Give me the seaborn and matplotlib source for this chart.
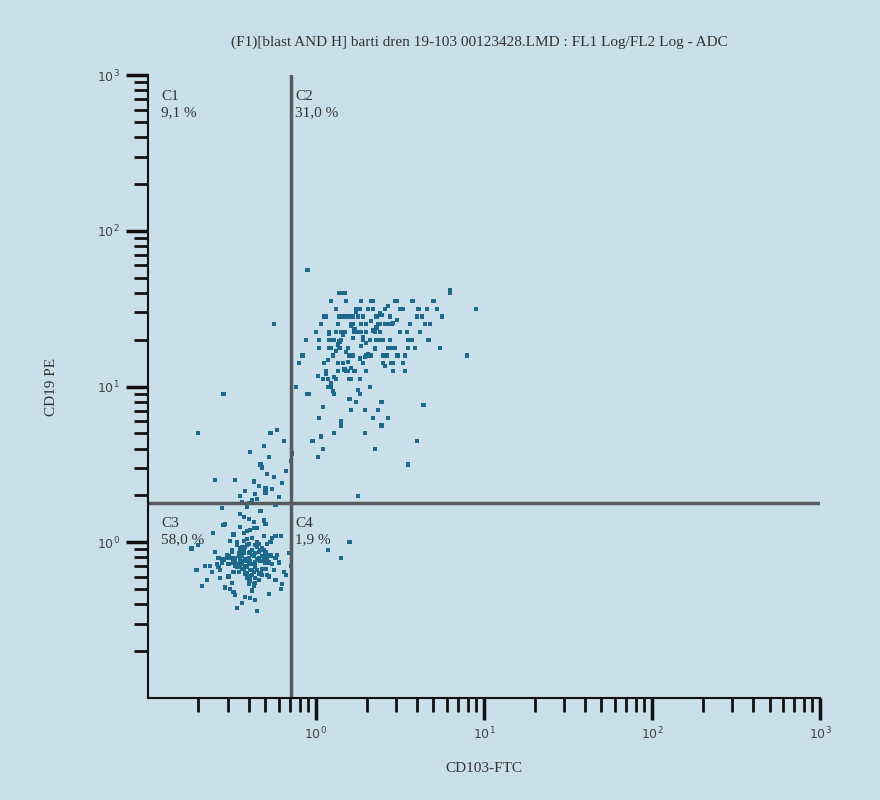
import numpy as np
import pandas as pd
import matplotlib
matplotlib.use("Agg")
import matplotlib.pyplot as plt
import seaborn as sns
from matplotlib.ticker import FixedLocator, FixedFormatter, NullFormatter

# log10 coordinates
low_x = [-0.42,-0.38,-0.45,-0.50,-0.35,-0.40,-0.47,-0.33,-0.55,-0.44,-0.30,-0.39,-0.52,-0.41,-0.36,-0.48,-0.28,-0.43,-0.58,-0.37,-0.46,-0.32,-0.49,-0.40,-0.62,-0.34,-0.51,-0.26,-0.44,-0.39,-0.57,-0.31,-0.47,-0.42,-0.36,-0.53,-0.22,-0.45,-0.38,-0.60,-0.29,-0.48,-0.41,-0.35,-0.66,-0.43,-0.24,-0.50,-0.37,-0.46,-0.33,-0.54,-0.40,-0.27,-0.44,-0.70,-0.39,-0.49,-0.31,-0.42,-0.56,-0.36,-0.20,-0.47,-0.41,-0.34,-0.52,-0.45,-0.38,-0.63,-0.30,-0.43,-0.25,-0.48,-0.40,-0.35,-0.59,-0.44,-0.32,-0.51,-0.18,-0.46,-0.39,-0.28,-0.42,-0.55,-0.37,-0.49,-0.33,-0.68,-0.41,-0.23,-0.45,-0.36,-0.52,-0.40,-0.30,-0.47,-0.43,-0.61,-0.34,-0.38,-0.16,-0.50,-0.44,-0.26,-0.57,-0.42,-0.35,-0.48,-0.31,-0.74,-0.39,-0.45,-0.21,-0.53,-0.37,-0.43,-0.29,-0.65,-0.41,-0.47,-0.33,-0.19,-0.50,-0.36,-0.44,-0.58,-0.27,-0.40,-0.46,-0.32,-0.54,-0.38,-0.15,-0.49,-0.42,-0.24,-0.71,-0.35,-0.45,-0.30,-0.56,-0.41,-0.37,-0.22,-0.48,-0.64,-0.43,-0.34]
low_y = [-0.12,-0.08,-0.15,-0.05,-0.18,-0.10,-0.02,-0.20,-0.11,-0.14,-0.06,-0.25,-0.09,0.02,-0.16,-0.13,-0.22,-0.04,-0.10,-0.28,-0.07,-0.17,0.05,-0.12,-0.19,-0.01,-0.30,-0.14,-0.08,0.08,-0.23,-0.11,-0.16,-0.03,-0.26,-0.09,-0.13,0.10,-0.18,-0.06,-0.21,-0.34,-0.12,0.00,-0.15,-0.07,-0.24,-0.10,0.13,-0.19,-0.05,-0.29,-0.14,-0.09,-0.17,-0.02,-0.36,-0.11,0.04,-0.20,-0.13,-0.07,-0.27,-0.16,0.07,-0.10,-0.22,-0.04,-0.31,-0.15,-0.08,0.16,-0.18,-0.12,-0.25,-0.03,-0.14,-0.39,-0.09,0.01,-0.21,-0.16,-0.06,-0.33,-0.11,0.11,-0.19,-0.13,-0.05,-0.28,-0.15,-0.08,0.18,-0.23,-0.10,-0.01,-0.17,-0.42,-0.12,0.06,-0.20,-0.14,-0.07,-0.26,-0.09,0.03,-0.18,-0.35,-0.11,-0.15,0.14,-0.04,-0.22,-0.13,-0.30,-0.08,0.09,-0.17,-0.10,-0.24,-0.02,-0.14,0.20,-0.19,-0.06,-0.37,-0.12,-0.16,0.00,-0.27,-0.09,-0.21,0.12,-0.05,-0.15,-0.32,-0.11,0.04,-0.18,-0.44,-0.07,-0.13,0.22,-0.20]
# extra points in the dense core of the lower population
core_x = [-0.40,-0.36,-0.44,-0.31,-0.48,-0.38,-0.42,-0.34,-0.46,-0.29,-0.41,-0.37,-0.50,-0.33,-0.43,-0.39,-0.27,-0.45,-0.35,-0.52,-0.32,-0.41,-0.24,-0.47,-0.38,-0.30,-0.44,-0.36,-0.49,-0.21,-0.42,-0.34,-0.46,-0.28,-0.40,-0.53,-0.37,-0.43,-0.31,-0.39]
core_y = [-0.07,-0.13,-0.03,-0.17,-0.10,0.03,-0.20,-0.06,-0.15,-0.01,-0.23,-0.09,-0.05,-0.12,0.06,-0.18,-0.08,-0.11,0.09,-0.14,-0.04,-0.16,-0.10,0.00,-0.21,0.12,-0.07,-0.02,-0.19,0.04,-0.15,-0.24,-0.08,-0.13,0.15,-0.10,-0.27,0.01,-0.05,-0.12]
bridge_x = [-0.35,-0.30,-0.40,-0.25,-0.45,-0.33,-0.20,-0.38,-0.28,-0.42,-0.18,-0.31,-0.36,-0.24,-0.48,-0.27,-0.15,-0.34,-0.22,-0.39,-0.29,-0.44,-0.19,-0.32,-0.26,-0.37,-0.14,-0.41,-0.23,-0.30]
bridge_y = [0.28,0.35,0.25,0.42,0.30,0.50,0.38,0.27,0.55,0.33,0.46,0.62,0.31,0.24,0.40,0.70,0.52,0.36,0.29,0.58,0.44,0.26,0.65,0.48,0.34,0.39,0.57,0.23,0.72,0.32]
up_x = [0.10,0.20,0.05,0.30,0.15,0.25,-0.05,0.35,0.12,0.22,0.40,0.02,0.18,0.28,0.45,0.08,0.32,0.14,0.50,0.24,-0.08,0.38,0.16,0.55,0.06,0.27,0.42,0.11,0.34,0.19,0.60,0.00,0.29,0.47,0.13,0.36,0.21,0.65,0.04,0.31,0.52,0.17,0.26,0.44,0.09,0.70,0.23,0.37,-0.10,0.57,0.15,0.33,0.48,0.07,0.25,0.62,0.19,0.39,0.03,0.53,0.28,0.12,0.46,0.75,0.21,0.35,-0.02,0.58,0.16,0.30,0.43,0.09,0.67,0.26,0.40,0.14,0.50,0.01,0.32,0.22,0.56,0.11,0.38,0.72,0.18,0.45,0.27,-0.06,0.63,0.34,0.08,0.49,0.20,0.41,0.13,0.59,0.29,0.05,0.36,0.54,0.17,0.24,0.44,0.10,0.68,0.31,-0.12,0.47,0.23,0.39,0.06,0.52,0.15,0.33,0.80,0.26,0.42,0.02,0.61,0.19,0.37,0.12,0.48,0.28,0.57,0.08,0.35,0.21,0.46,0.14,0.66,0.30,-0.04,0.40,0.18,0.53,0.25,0.09,0.43,0.32,0.74,0.16,0.50,0.04,0.38,0.22,0.60,0.27,0.11,0.45,0.34,0.07,0.55,0.20,0.41,0.13,0.30,0.64,0.24,0.02,0.48,0.36,0.17,0.58,0.10,0.28]
up_y = [1.30,1.20,1.45,1.10,1.35,1.50,0.95,1.25,1.05,1.40,1.30,0.80,1.55,1.15,1.40,1.25,1.00,1.45,1.50,0.90,1.20,1.35,1.60,1.30,1.10,1.40,1.20,0.70,1.50,1.25,1.45,1.35,0.85,1.55,1.15,1.30,1.05,1.40,0.60,1.20,1.50,1.35,0.95,1.45,1.25,1.55,1.10,1.40,1.15,1.30,0.75,1.20,1.55,1.05,1.45,1.35,1.25,0.90,1.40,1.20,1.30,1.50,1.10,1.45,0.85,1.35,0.65,1.55,1.15,1.40,1.25,1.00,1.30,1.50,1.15,1.60,1.35,0.55,1.20,1.45,1.40,0.95,1.30,1.50,1.10,1.25,1.55,1.30,1.45,0.80,1.35,1.20,1.05,1.50,1.40,1.25,0.70,1.15,1.45,1.35,1.60,0.90,1.30,1.20,1.40,1.50,1.00,1.25,1.35,0.75,1.45,1.15,1.30,1.55,1.60,1.05,1.40,1.25,1.50,1.10,0.85,1.35,1.20,1.45,1.55,1.30,0.60,1.40,1.15,1.25,1.50,1.35,0.95,1.20,1.45,1.10,1.35,1.55,0.80,1.30,1.25,1.45,1.50,1.05,1.40,1.20,0.65,1.35,1.30,1.15,1.55,1.00,1.25,1.45,1.40,1.10,1.20,0.88,1.50,1.30]
up2_x = [0.13,0.23,0.07,0.33,0.18,0.28,0.01,0.38,0.10,0.21,0.43,0.04,0.16,0.26,0.48,0.09,0.30,0.20,0.36,0.12,0.24,0.41,0.06,0.15,0.34,0.27,0.19,0.46,0.03,0.22,0.31,0.11,0.39,0.17,0.25,0.08,0.29,0.14,0.35,0.21]
up2_y = [1.27,1.37,1.17,1.42,1.22,1.32,1.07,1.47,0.97,1.12,1.52,0.87,1.33,1.18,1.43,1.02,1.28,0.92,1.38,1.23,1.48,1.13,1.08,0.78,1.36,1.26,1.16,1.41,0.68,1.31,1.21,1.06,1.46,1.11,0.98,1.34,1.19,1.29,1.24,1.39]
out_x = [-0.55,-0.25,-0.60,0.95,0.90,0.55,0.80,0.25,0.07,0.15,0.20,-0.70,-0.05]
out_y = [0.95,1.40,0.40,1.50,1.20,0.50,1.62,0.30,-0.05,-0.10,0.00,0.70,1.75]

quad_x = 0.71
quad_y = 1.78
quad_labels = [("C1", "9,1 %"), ("C2", "31,0 %"), ("C3", "58,0 %"), ("C4", "1,9 %")]
x_ticklabels = ["$10^0$", "$10^1$", "$10^2$", "$10^3$"]
y_ticklabels = ["$10^0$", "$10^1$", "$10^2$", "$10^3$"]
title = "(F1)[blast AND H] barti dren 19-103 00123428.LMD : FL1 Log/FL2 Log - ADC"

lx = []
ly = []
for xs, ys in [(low_x, low_y), (core_x, core_y), (bridge_x, bridge_y), (up_x, up_y),
               (up2_x, up2_y), (out_x, out_y)]:
    n = min(len(xs), len(ys))
    lx += xs[:n]
    ly += ys[:n]
df = pd.DataFrame({"x": 10 ** np.array(lx), "y": 10 ** np.array(ly)})

bg = "#c9e0ea"
sns.set_style("white")
plt.rcParams["font.family"] = ["Liberation Serif", "DejaVu Serif"]
fig = plt.figure(figsize=(8.8, 8.0), dpi=100, facecolor=bg)
ax = fig.add_axes([0.168, 0.1275, 0.764, 0.7785])
ax.set_facecolor(bg)
ax.set_xscale("log")
ax.set_yscale("log")
sns.scatterplot(data=df, x="x", y="y", ax=ax, marker="s", s=9, color="#1d6a8c",
                edgecolor="none", linewidth=0)
ax.set_xlim(0.1, 1000)
ax.set_ylim(0.1, 1000)

for s in ["top", "right"]:
    ax.spines[s].set_visible(False)
for s in ["left", "bottom"]:
    ax.spines[s].set_color("#111111")
    ax.spines[s].set_linewidth(1.5)

ax.xaxis.set_major_locator(FixedLocator([1, 10, 100, 1000]))
ax.xaxis.set_major_formatter(FixedFormatter(x_ticklabels))
ax.yaxis.set_major_locator(FixedLocator([1, 10, 100, 1000]))
ax.yaxis.set_major_formatter(FixedFormatter(y_ticklabels))
minors = [m * 10.0 ** e for e in range(-1, 3) for m in range(2, 10)]
ax.xaxis.set_minor_locator(FixedLocator(minors))
ax.yaxis.set_minor_locator(FixedLocator(minors))
ax.xaxis.set_minor_formatter(NullFormatter())
ax.yaxis.set_minor_formatter(NullFormatter())
ax.tick_params(axis="both", which="both", bottom=True, left=True, top=False, right=False)
ax.tick_params(axis="both", which="major", direction="out", length=16, width=2.5,
               color="#111111", labelsize=9, labelcolor="#444444", pad=4)
ax.tick_params(axis="both", which="minor", direction="out", length=10, width=2,
               color="#111111")

ax.axvline(quad_x, color="#555b60", lw=2.5)
ax.axhline(quad_y, color="#555b60", lw=2.5)

tc = "#333333"
ax.text(0.12, 800, quad_labels[0][0] + "\n" + quad_labels[0][1], fontsize=11, color=tc, va="top", linespacing=1.3)
ax.text(0.75, 800, quad_labels[1][0] + "\n" + quad_labels[1][1], fontsize=11, color=tc, va="top", linespacing=1.3)
ax.text(0.12, 1.45, quad_labels[2][0] + "\n" + quad_labels[2][1], fontsize=11, color=tc, va="top", linespacing=1.3)
ax.text(0.75, 1.45, quad_labels[3][0] + "\n" + quad_labels[3][1], fontsize=11, color=tc, va="top", linespacing=1.3)

ax.set_xlabel("CD103-FTC", fontsize=11, color=tc, labelpad=14)
ax.set_ylabel("CD19 PE", fontsize=11, color=tc, labelpad=28)
fig.text(0.545, 0.947, title, ha="center", va="center", fontsize=11, color=tc)

fig.savefig("out.png", dpi=100, facecolor=bg)
